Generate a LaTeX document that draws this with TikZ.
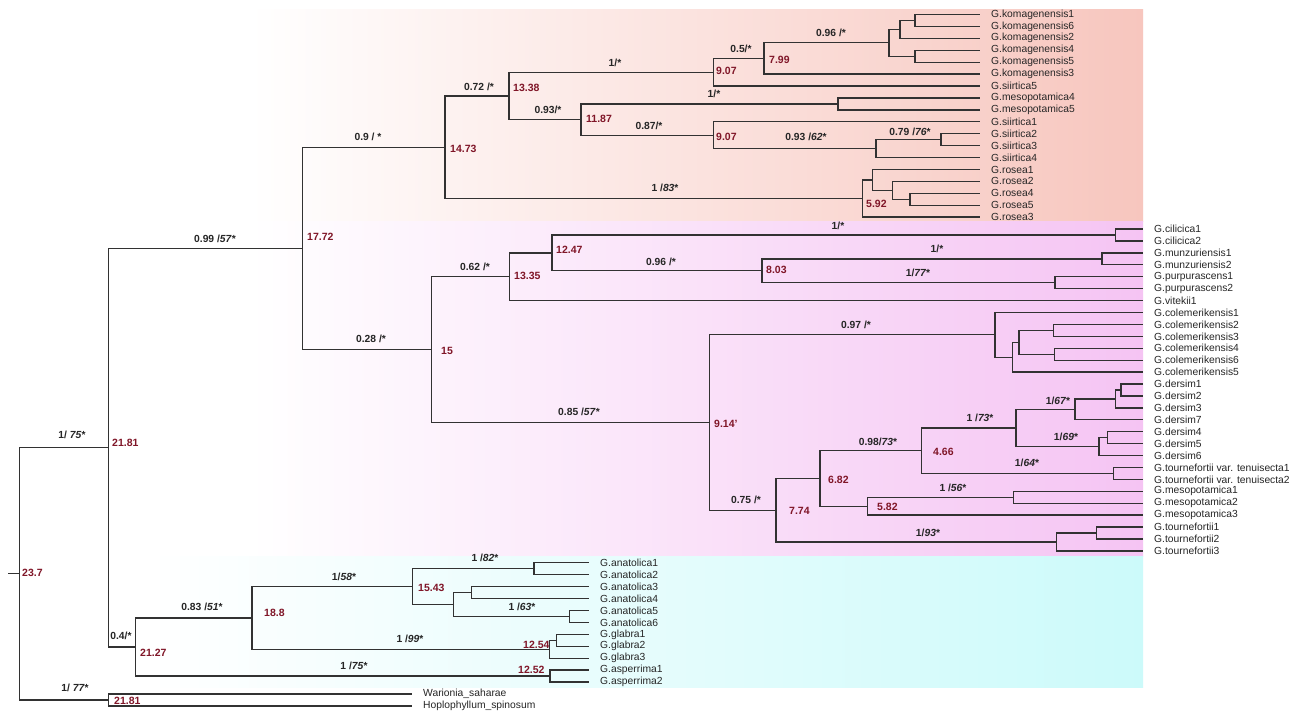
\documentclass[tikz,border=0pt]{standalone}
\usepackage{fontspec}
\setmainfont{Liberation Sans}
\definecolor{salmon}{RGB}{247,198,190}
\definecolor{mag}{RGB}{245,196,243}
\definecolor{cyn}{RGB}{204,250,250}
\definecolor{agered}{RGB}{128,22,40}
\definecolor{treegray}{RGB}{50,50,50}
\newcommand{\bsv}[1]{\textit{#1}}
\begin{document}
\begin{tikzpicture}[x=1pt,y=-1pt,
  br/.style={line width=1.3pt,draw=treegray},
  leaf/.style={anchor=west,inner sep=0pt,font=\fontsize{10.3}{11}\selectfont,text=black!85},
  sup/.style={inner sep=0pt,font=\bfseries\fontsize{10.3}{11}\selectfont,text=black!85},
  age/.style={anchor=west,inner sep=0pt,font=\bfseries\fontsize{10.5}{11}\selectfont,text=agered}]
\useasboundingbox (0,0) rectangle (1307,711);
\fill[white] (0,0) rectangle (1307,711);
% coloured bands
\shade[left color=white,right color=salmon] (250,9.6) rectangle (1143,221.7);
\shade[left color=white,right color=mag] (250,221.7) rectangle (1143,556);
\shade[left color=white,right color=cyn] (150,556) rectangle (1143,687);
% leaves
\foreach \i/\n in {0/komagenensis1,1/komagenensis6,2/komagenensis2,3/komagenensis4,4/komagenensis5,5/komagenensis3,6/siirtica5,7/mesopotamica4,8/mesopotamica5,9/siirtica1,10/siirtica2,11/siirtica3,12/siirtica4,13/rosea1,14/rosea2,15/rosea4,16/rosea5,17/rosea3}{
  \coordinate (t\i) at (980,{14.5+11.92*\i});
  \node[leaf] (l\i) at (991,{14.5+11.92*\i}) {G.\n};}
\foreach \i/\n in {18/cilicica1,19/cilicica2,20/munzuriensis1,21/munzuriensis2,22/purpurascens1,23/purpurascens2,24/vitekii1,25/colemerikensis1,26/colemerikensis2,27/colemerikensis3,28/colemerikensis4,29/colemerikensis6,30/colemerikensis5,31/dersim1,32/dersim2,33/dersim3,34/dersim7,35/dersim4,36/dersim5,37/dersim6,38/tournefortii var. tenuisecta1,39/tournefortii var. tenuisecta2,40/mesopotamica1,41/mesopotamica2,42/mesopotamica3,43/tournefortii1,44/tournefortii2,45/tournefortii3}{
  \coordinate (t\i) at (1143,{14.5+11.92*\i});
  \node[leaf] (l\i) at (1154,{14.5+11.92*\i}) {G.\n};}
\foreach \i/\n in {46/anatolica1,47/anatolica2,48/anatolica3,49/anatolica4,50/anatolica5,51/anatolica6,52/glabra1,53/glabra2,54/glabra3,55/asperrima1,56/asperrima2}{
  \coordinate (t\i) at (589,{14.5+11.92*\i});
  \node[leaf] (l\i) at (600,{14.5+11.92*\i}) {G.\n};}
\coordinate (t57) at (412,693.94);
\node[leaf] (l57) at (423,693.94) {Warionia\_saharae};
\coordinate (t58) at (412,705.86);
\node[leaf] (l58) at (423,705.86) {Hoplophyllum\_spinosum};
% internal nodes
\coordinate (k15) at (915,20.46);
\coordinate (k900) at (900,29.40);
\coordinate (k45) at (915,56.22);
\coordinate (k890) at (889,42.81);
\coordinate (n799) at (764,58.46);
\coordinate (n907a) at (713.6,72.24);
\coordinate (m45) at (838,103.90);
\coordinate (s23) at (941,139.66);
\coordinate (s234) at (876,148.60);
\coordinate (n907b) at (713.6,135.19);
\coordinate (n1187) at (581,119.55);
\coordinate (n1338) at (509,95.89);
\coordinate (r45) at (910,199.26);
\coordinate (r245) at (892.7,190.32);
\coordinate (r1245) at (872.7,179.89);
\coordinate (n592) at (862.7,198.52);
\coordinate (n1473) at (445,147.20);
\coordinate (cil) at (1115.7,235.02);
\coordinate (mun) at (1102,258.86);
\coordinate (pur) at (1055,282.70);
\coordinate (n803) at (762,270.78);
\coordinate (n1247) at (552,252.90);
\coordinate (n1335) at (509.8,276.74);
\coordinate (c23) at (1053.3,330.38);
\coordinate (c48) at (1054.3,354.22);
\coordinate (cY) at (1019,342.30);
\coordinate (cX) at (1012.7,357.20);
\coordinate (colem) at (995,334.85);
\coordinate (dQ) at (1121,389.98);
\coordinate (dP) at (1115.7,398.92);
\coordinate (dR) at (1075,409.35);
\coordinate (dT) at (1107.3,437.66);
\coordinate (dS) at (1099,446.60);
\coordinate (d1016) at (1016,427.98);
\coordinate (ten) at (1113.3,473.42);
\coordinate (n466) at (921.7,450.70);
\coordinate (mes) at (1013.3,497.26);
\coordinate (n582) at (867.7,506.20);
\coordinate (n682) at (820,478.45);
\coordinate (tU) at (1096.7,533.02);
\coordinate (tour) at (1056.7,541.96);
\coordinate (n774) at (776,510.21);
\coordinate (n914) at (709.3,422.53);
\coordinate (n15) at (431.8,349.63);
\coordinate (n1772) at (302.5,248.42);
\coordinate (a12) at (534,568.78);
\coordinate (a34) at (471.7,592.62);
\coordinate (a56) at (569.3,616.46);
\coordinate (a3456) at (453.3,604.54);
\coordinate (n1543) at (412.4,586.66);
\coordinate (g12) at (556.7,640.30);
\coordinate (gla) at (549.3,649.24);
\coordinate (n188) at (251.9,617.95);
\coordinate (asp) at (550,676.06);
\coordinate (n2127) at (135.2,647.00);
\coordinate (n2181) at (108.5,447.71);
\coordinate (out) at (108.5,699.90);
\coordinate (root) at (19.5,573.81);
\coordinate (stub) at (8,573.81);
% branches
\draw[br] (stub) -- (root);
\foreach \p/\c in {root/n2181,root/out,n2181/n1772,n2181/n2127,n1772/n1473,n1772/n15,
  n1473/n1338,n1473/n592,n1338/n907a,n1338/n1187,n907a/n799,n907a/t6,n799/k890,n799/t5,
  k890/k900,k890/k45,k900/k15,k900/t2,k15/t0,k15/t1,k45/t3,k45/t4,
  n1187/m45,n1187/n907b,m45/t7,m45/t8,n907b/t9,n907b/s234,s234/s23,s234/t12,s23/t10,s23/t11,
  n592/r1245,n592/t17,r1245/t13,r1245/r245,r245/t14,r245/r45,r45/t15,r45/t16,
  n15/n1335,n15/n914,n1335/n1247,n1335/t24,n1247/cil,n1247/n803,cil/t18,cil/t19,
  n803/mun,n803/pur,mun/t20,mun/t21,pur/t22,pur/t23,
  n914/colem,n914/n774,colem/t25,colem/cX,cX/cY,cX/t30,cY/c23,cY/c48,c23/t26,c23/t27,c48/t28,c48/t29,
  n774/n682,n774/tour,n682/n466,n682/n582,n466/d1016,n466/ten,d1016/dR,d1016/dS,
  dR/dP,dR/t34,dP/dQ,dP/t33,dQ/t31,dQ/t32,dS/dT,dS/t37,dT/t35,dT/t36,ten/t38,ten/t39,
  n582/mes,n582/t42,mes/t40,mes/t41,tour/tU,tour/t45,tU/t43,tU/t44,
  n2127/n188,n2127/asp,n188/n1543,n188/gla,n1543/a12,n1543/a3456,a12/t46,a12/t47,
  a3456/a34,a3456/a56,a34/t48,a34/t49,a56/t50,a56/t51,gla/g12,gla/t54,g12/t52,g12/t53,
  asp/t55,asp/t56,out/t57,out/t58}
  {\draw[br] (\p) |- (\c);}
% node ages
\node[age] (g1) at (22,573) {23.7};
\node[age] (g2) at (112,443) {21.81};
\node[age] (g3) at (307,237) {17.72};
\node[age] (g4) at (450,149) {14.73};
\node[age] (g5) at (513,88) {13.38};
\node[age] (g6) at (716,71) {9.07};
\node[age] (g7) at (769,60) {7.99};
\node[age] (g8) at (586,119) {11.87};
\node[age] (g9) at (716,137) {9.07};
\node[age] (g10) at (866,204) {5.92};
\node[age] (g11) at (441,351) {15};
\node[age] (g12) at (514,276) {13.35};
\node[age] (g13) at (556,250) {12.47};
\node[age] (g14) at (766,270) {8.03};
\node[age] (g15) at (714,424) {9.14'};
\node[age] (g16) at (789,511) {7.74};
\node[age] (g17) at (828,480) {6.82};
\node[age] (g18) at (933,452) {4.66};
\node[age] (g19) at (877,507) {5.82};
\node[age] (g20) at (264,613) {18.8};
\node[age] (g21) at (140,653) {21.27};
\node[age] (g22) at (418,588) {15.43};
\node[age] (g23) at (523,645) {12.54};
\node[age] (g24) at (518,670) {12.52};
\node[age] (g25) at (114,701) {21.81};
% supports
\node[sup] (s1) at (72,435) {1/ \bsv{75}*};
\node[sup] (s2) at (215,239) {0.99 /\bsv{57}*};
\node[sup] (s3) at (368,137) {0.9 / *};
\node[sup] (s4) at (371,339) {0.28 /*};
\node[sup] (s5) at (479,87) {0.72 /*};
\node[sup] (s6) at (615,63) {1/*};
\node[sup] (s7) at (741,49) {0.5/*};
\node[sup] (s8) at (831,33) {0.96 /*};
\node[sup] (s9) at (548,110) {0.93/*};
\node[sup] (s10) at (714,94) {1/*};
\node[sup] (s11) at (649,126) {0.87/*};
\node[sup] (s12) at (806,137) {0.93 /\bsv{62}*};
\node[sup] (s13) at (910,132) {0.79 /\bsv{76}*};
\node[sup] (s14) at (665,188) {1 /\bsv{83}*};
\node[sup] (s15) at (475,267) {0.62 /*};
\node[sup] (s16) at (838,226) {1/*};
\node[sup] (s17) at (661,262) {0.96 /*};
\node[sup] (s18) at (937,249) {1/*};
\node[sup] (s19) at (918,273) {1/\bsv{77}*};
\node[sup] (s20) at (856,325) {0.97 /*};
\node[sup] (s21) at (579,412) {0.85 /\bsv{57}*};
\node[sup] (s22) at (746,500) {0.75 /*};
\node[sup] (s23) at (878,442) {0.98/\bsv{73}*};
\node[sup] (s24) at (980,418) {1 /\bsv{73}*};
\node[sup] (s25) at (1058,401) {1/\bsv{67}*};
\node[sup] (s26) at (1066,437) {1/\bsv{69}*};
\node[sup] (s27) at (1027,463) {1/\bsv{64}*};
\node[sup] (s28) at (953,488) {1 /\bsv{56}*};
\node[sup] (s29) at (928,533) {1/\bsv{93}*};
\node[sup] (s30) at (485,558) {1 /\bsv{82}*};
\node[sup] (s31) at (344,577) {1/\bsv{58}*};
\node[sup] (s32) at (202,607) {0.83 /\bsv{51}*};
\node[sup] (s33) at (121,636) {0.4/*};
\node[sup] (s34) at (522,607) {1 /\bsv{63}*};
\node[sup] (s35) at (410,639) {1 /\bsv{99}*};
\node[sup] (s36) at (354,666) {1 /\bsv{75}*};
\node[sup] (s37) at (75,688) {1/ \bsv{77}*};
\end{tikzpicture}
\end{document}
